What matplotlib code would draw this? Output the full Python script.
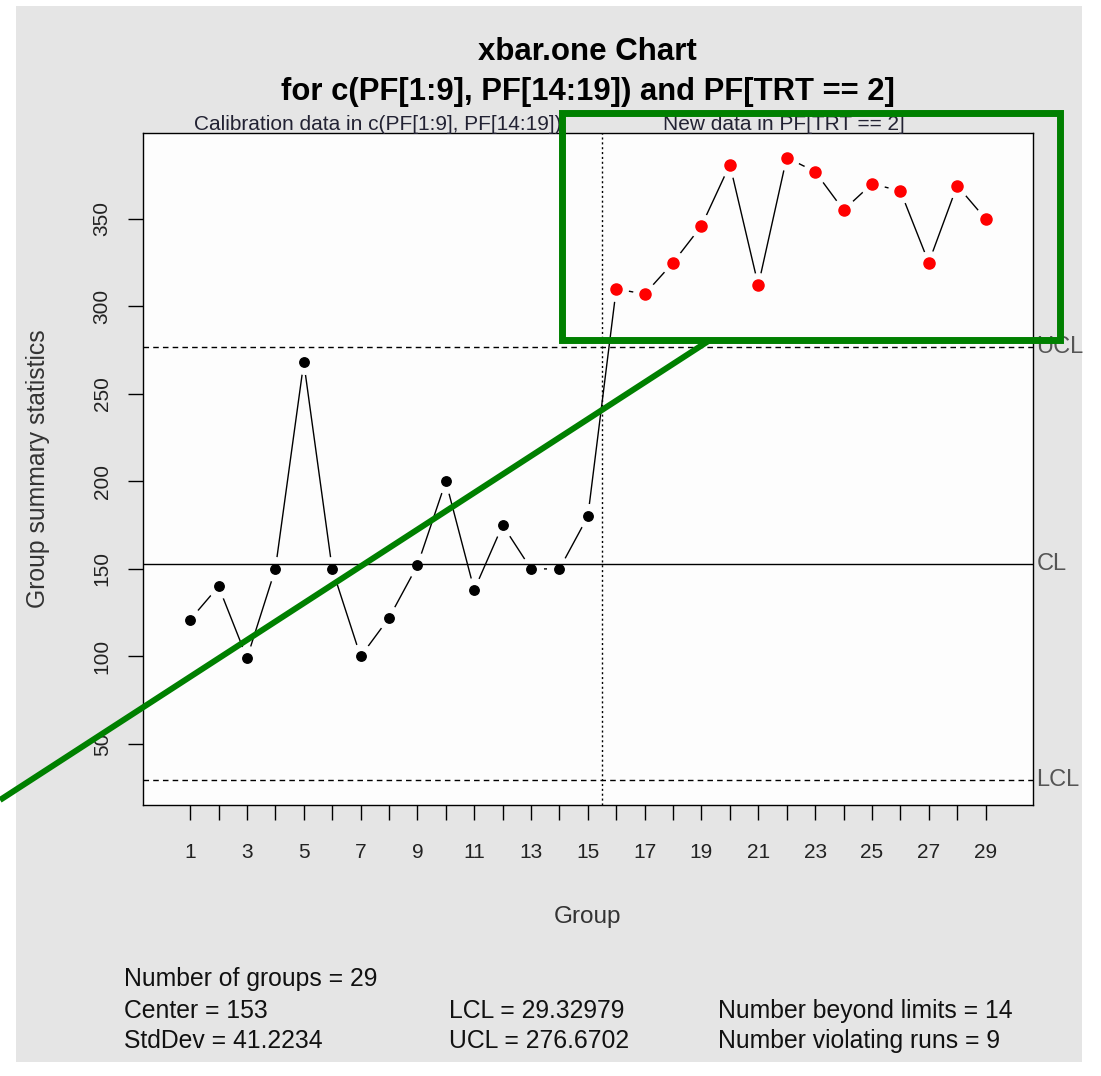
import matplotlib
matplotlib.use("Agg")
import matplotlib.pyplot as plt
import matplotlib.transforms as mtransforms
from matplotlib.patches import Rectangle
from matplotlib.lines import Line2D
import numpy as np

plt.rcParams['font.family'] = ['Liberation Sans', 'DejaVu Sans']

# group summary statistics (calibration: groups 1-15, new data: 16-29)
groups = np.arange(1, 30)
values = [121, 140, 99, 150, 268, 150, 100, 122, 152, 200, 138, 175, 150, 150, 180,
          310, 307, 325, 346, 381, 312, 385, 377, 355, 370, 366, 325, 369, 350]
n_calib = 15

center = 153
lcl = 29.32979
ucl = 276.6702
stddev = 41.2234
n_beyond = 14
n_runs = 9

title1 = "xbar.one Chart"
title2 = "for c(PF[1:9], PF[14:19]) and PF[TRT == 2]"
calib_label = "Calibration data in c(PF[1:9], PF[14:19])"
new_label = "New data in PF[TRT == 2]"

W, H = 1101, 1076
fig = plt.figure(figsize=(W / 100, H / 100), dpi=100)
fig.patch.set_facecolor("white")
# grey device background
fig.add_artist(Rectangle((16 / W, 1 - 1062 / H), (1082 - 16) / W, (1062 - 6) / H,
                         transform=fig.transFigure, facecolor="#e5e5e5",
                         edgecolor="none", zorder=0))

left, right, top, bottom = 143, 1032.7, 132.7, 805
ax = fig.add_axes([left / W, 1 - bottom / H, (right - left) / W, (bottom - top) / H])
ax.set_facecolor("#fdfdfd")
for s in ax.spines.values():
    s.set_linewidth(1.0)
    s.set_color("black")

x = groups
y = np.array(values, dtype=float)

# connecting line with gaps around the points (R type="b")
ax.plot(x, y, color="black", lw=1.0, zorder=2)
ax.plot(x, y, ls="none", marker="o", ms=17, mfc="#fdfdfd", mec="#fdfdfd", zorder=2.5)

ax.axhline(center, color="black", lw=1.0, zorder=3)
ax.axhline(ucl, color="black", lw=1.0, ls=(0, (4, 3)), zorder=3)
ax.axhline(lcl, color="black", lw=1.0, ls=(0, (4, 3)), zorder=3)
ax.axvline(n_calib + 0.5, color="black", lw=1.0, ls=(0, (1.5, 2)), zorder=3)

beyond = (y > ucl) | (y < lcl)
ax.plot(x[~beyond], y[~beyond], ls="none", marker="o", ms=6.8, color="black", zorder=4)
ax.plot(x[beyond], y[beyond], ls="none", marker="o", ms=8, color="red", zorder=4)

# limits, R style 4% extension
ax.set_xlim(0.5 - 0.04 * 29, 29.5 + 0.04 * 29)
ymin, ymax = lcl, y.max()
ax.set_ylim(ymin - 0.04 * (ymax - ymin), ymax + 0.04 * (ymax - ymin))

ax.set_xticks(groups)
ax.set_xticklabels([str(g) if g % 2 == 1 else "" for g in groups])
ax.set_yticks([50, 100, 150, 200, 250, 300, 350])
ax.tick_params(axis="both", direction="out", length=10.5, width=1.0, color="black",
               labelsize=15, labelcolor="#222222")
ax.tick_params(axis="x", pad=17)
ax.tick_params(axis="y", pad=12)
for lab in ax.get_yticklabels():
    lab.set_rotation(90)
    lab.set_va("center")

ax.set_xlabel("Group", fontsize=17.5, color="#333333", va="center")
ax.xaxis.set_label_coords(0.5, (bottom - 917) / (bottom - top))
ax.set_ylabel("Group summary statistics", fontsize=17.8, color="#333333", va="center")
ax.yaxis.set_label_coords((38 - left) / (right - left), 0.5)

# titles
ax.text(0.5, (bottom - 52) / (bottom - top), title1, transform=ax.transAxes,
        ha="center", va="center", fontsize=22.5, fontweight="bold")
ax.text(0.5, (bottom - 92) / (bottom - top), title2, transform=ax.transAxes,
        ha="center", va="center", fontsize=22.3, fontweight="bold")

trans_xa = mtransforms.blended_transform_factory(ax.transData, ax.transAxes)
sub_y = (bottom - 124) / (bottom - top)
ax.text(7.6, sub_y, calib_label, transform=trans_xa, ha="center", va="center",
        fontsize=15, color="#222233", clip_on=False)
ax.text(21.9, sub_y, new_label, transform=trans_xa, ha="center", va="center",
        fontsize=15, color="#222233", clip_on=False)

trans_ay = mtransforms.blended_transform_factory(ax.transAxes, ax.transData)
for lab, val in [("UCL", ucl), ("CL", center), ("LCL", lcl)]:
    ax.text(1.004, val, lab, transform=trans_ay, ha="left", va="center",
            fontsize=17, color="#555555", clip_on=False)

# summary statistics
stats = [
    (124, 979, "Number of groups = %d" % len(values)),
    (124, 1011, "Center = %g" % center),
    (124, 1041, "StdDev = %s" % stddev),
    (449, 1011, "LCL = %s" % lcl),
    (449, 1041, "UCL = %s" % ucl),
    (718, 1011, "Number beyond limits = %d" % n_beyond),
    (718, 1041, "Number violating runs = %d" % n_runs),
]
for px, py, s in stats:
    fig.text(px / W, 1 - py / H, s, ha="left", va="center", fontsize=17.8, color="#111111")

# green highlight annotations
green = "#008000"
fig.add_artist(Rectangle((561.5 / W, 1 - 339.7 / H), (1060 - 561.5) / W, (339.7 - 113.5) / H,
                         transform=fig.transFigure, fill=False, edgecolor=green,
                         lw=5, zorder=10))
fig.add_artist(Line2D([0, 710 / W], [1 - 800 / H, 1 - 340 / H], transform=fig.transFigure,
                      color=green, lw=4.3, zorder=10, solid_capstyle="butt"))

fig.savefig("out.png", dpi=100, facecolor=fig.get_facecolor())
